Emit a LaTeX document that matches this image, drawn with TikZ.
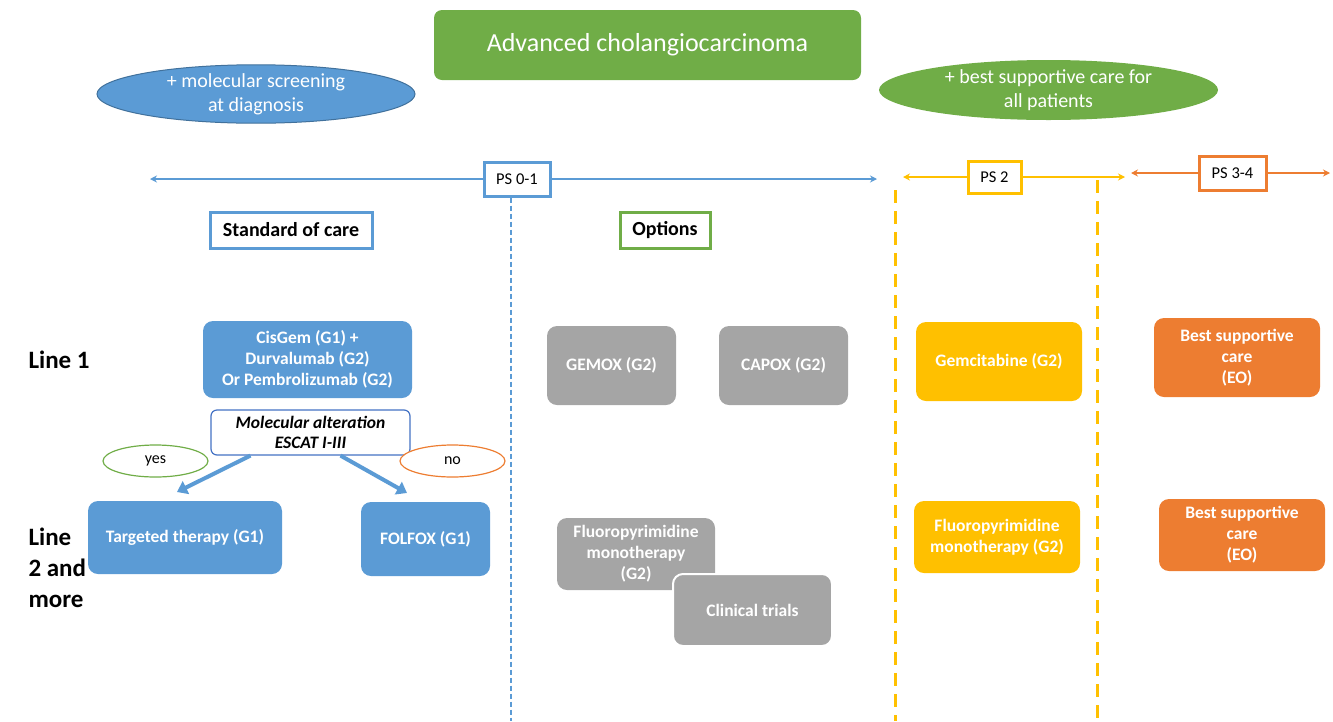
\documentclass[tikz,border=0pt]{standalone}
\usepackage{fontspec}
\setmainfont{Carlito}
\usepackage{tikz}
\usetikzlibrary{calc}
\usetikzlibrary{arrows.meta}
\usetikzlibrary{shapes.geometric}
\usepackage{xcolor}

\definecolor{cblue}{HTML}{5B9BD5}
\definecolor{cdblue}{HTML}{41719C}
\definecolor{cmblue}{HTML}{4472C4}
\definecolor{cgreen}{HTML}{70AD47}
\definecolor{cgray}{HTML}{A5A5A5}
\definecolor{cyellow}{HTML}{FFC000}
\definecolor{corange}{HTML}{ED7D31}

\tikzset{
  fs/.style 2 args={font=\fontsize{#1}{#2}\selectfont},
  treat/.style={rectangle, rounded corners=10pt, draw=none, text=white,
    align=center, font=\fontsize{17.5}{21}\selectfont\bfseries, inner sep=2pt},
  psbox/.style={rectangle, draw=#1, line width=3pt, fill=white,
    font=\fontsize{16.5}{19}\selectfont, inner sep=0pt},
  headbox/.style={rectangle, draw=#1, line width=3pt, fill=white,
    font=\fontsize{20}{24}\selectfont\bfseries, inner sep=0pt},
  answer/.style={ellipse, draw=#1, line width=1.2pt, fill=white,
    font=\fontsize{16}{19}\selectfont, inner sep=0pt},
  psline/.style={#1, line width=1.2pt, -{Stealth[length=7pt,width=7pt]}},
  bigarrow/.style={cblue, line width=4pt, -{Triangle[length=10pt,width=14pt]}},
  linelabel/.style={font=\fontsize{25}{31}\selectfont\bfseries, align=left, anchor=west},
}

\begin{document}
\begin{tikzpicture}[x=1pt, y=-1pt]

    \useasboundingbox (0,0) rectangle (1333,721);

    % Define nodes
    \node[rectangle, rounded corners=8pt, fill=cgreen, text=white, minimum width=427pt, minimum height=70pt, fs={26}{30}] (title) at (647.5,45) {Advanced cholangiocarcinoma};
    \node[ellipse, fill=cblue, draw=cdblue, line width=1pt, text=white, minimum width=318pt, minimum height=56pt, align=center, fs={20}{24}, inner sep=0pt] (screen) at (256,94) {+ molecular screening\\at diagnosis};
    \node[ellipse, fill=cgreen, text=white, minimum width=339pt, minimum height=60pt, align=center, fs={20}{24}, inner sep=0pt] (bsc) at (1048.5,90) {+ best supportive care for\\all patients};

    \node[psbox=cblue, minimum width=66pt, minimum height=34pt] (ps01) at (517,179) {PS 0-1};
    \node[psbox=cyellow, minimum width=53pt, minimum height=32pt] (ps2) at (994.5,177) {PS 2};
    \node[psbox=corange, minimum width=67pt, minimum height=34pt] (ps34) at (1232.5,173) {PS 3-4};

    \node[headbox=cblue, minimum width=162pt, minimum height=36pt] (soc) at (291,230) {Standard of care};
    \node[headbox=cgreen, minimum width=90pt, minimum height=36pt] (opt) at (665,230) {Options};

    \node[linelabel] (line1) at (25,360) {Line 1};
    \node[linelabel] (line2) at (25,568) {Line\\2 and\\more};

    \node[treat, fill=cblue, minimum width=209pt, minimum height=77pt] (cisgem) at (307.5,359.5) {CisGem (G1) +\\Durvalumab (G2)\\Or Pembrolizumab (G2)};
    \node[rectangle, rounded corners=6pt, draw=cmblue, line width=1.2pt, fill=white, minimum width=199pt, minimum height=45pt, align=center, font=\fontsize{17.5}{20}\selectfont\bfseries\itshape, inner sep=0pt] (mol) at (310.5,432.5) {Molecular alteration\\ESCAT I-III};
    \node[answer=cgreen, minimum width=105pt, minimum height=32pt] (yes) at (155.5,461) {yes};
    \node[answer=corange, minimum width=105pt, minimum height=32pt] (no) at (452.5,461) {no};
    \node[treat, fill=cblue, minimum width=194pt, minimum height=73pt] (targ) at (185,537.5) {Targeted therapy (G1)};
    \node[treat, fill=cblue, minimum width=129pt, minimum height=74pt] (folfox) at (425.5,539) {FOLFOX (G1)};

    \node[treat, fill=cgray, minimum width=129pt, minimum height=79pt] (gemox) at (611.5,365.5) {GEMOX (G2)};
    \node[treat, fill=cgray, minimum width=129pt, minimum height=79pt] (capox) at (783.5,365.5) {CAPOX (G2)};
    \node[treat, fill=cgray, minimum width=158pt, minimum height=72pt] (fluog) at (636,554) {Fluoropyrimidine\\monotherapy\\(G2)};
    \node[treat, fill=cgray, draw=white, line width=2pt, minimum width=159pt, minimum height=72pt] (trials) at (752.5,610) {Clinical trials};

    \node[treat, fill=cyellow, minimum width=166pt, minimum height=79pt] (gemcit) at (999,361.5) {Gemcitabine (G2)};
    \node[treat, fill=cyellow, minimum width=166pt, minimum height=72pt] (fluoy) at (997,537) {Fluoropyrimidine\\monotherapy (G2)};

    \node[treat, fill=corange, minimum width=166pt, minimum height=79pt] (bsc1) at (1237,357.5) {Best supportive\\care\\(EO)};
    \node[treat, fill=corange, minimum width=166pt, minimum height=72pt] (bsc2) at (1242,535) {Best supportive\\care\\(EO)};

    % Free ends
    \coordinate (ps01l) at (150,179);
    \coordinate (ps01r) at (877,179);
    \coordinate (ps2l) at (903,177);
    \coordinate (ps2r) at (1125,177);
    \coordinate (ps34l) at (1131,173);
    \coordinate (ps34r) at (1330,173);
    \coordinate (sepend) at (511,721);
    \coordinate (ylt) at (895,190);
    \coordinate (ylb) at (895,721);
    \coordinate (yrt) at (1097,180);
    \coordinate (yrb) at (1097,721);
    \coordinate (yesend) at (177,492);
    \coordinate (noend) at (407,493);

    % Connect the nodes
    \draw[psline=cblue] (ps01.west) -- (ps01l);
    \draw[psline=cblue] (ps01.east) -- (ps01r);
    \draw[psline=cyellow] (ps2.west) -- (ps2l);
    \draw[psline=cyellow] (ps2.east) -- (ps2r);
    \draw[psline=corange] (ps34.west) -- (ps34l);
    \draw[psline=corange] (ps34.east) -- (ps34r);
    \draw[cblue, line width=1.4pt, dash pattern=on 5pt off 3pt] ([xshift=-6pt]ps01.south) -- (sepend);
    \draw[cyellow, line width=3pt, dash pattern=on 13pt off 8pt] (ylt) -- (ylb);
    \draw[cyellow, line width=3pt, dash pattern=on 13pt off 8pt] (yrt) -- (yrb);
    \draw[bigarrow] ($(mol.south west)!0.2!(mol.south east)$) -- (yesend);
    \draw[bigarrow] ($(mol.south west)!0.65!(mol.south east)$) -- (noend);

\end{tikzpicture}
\end{document}
